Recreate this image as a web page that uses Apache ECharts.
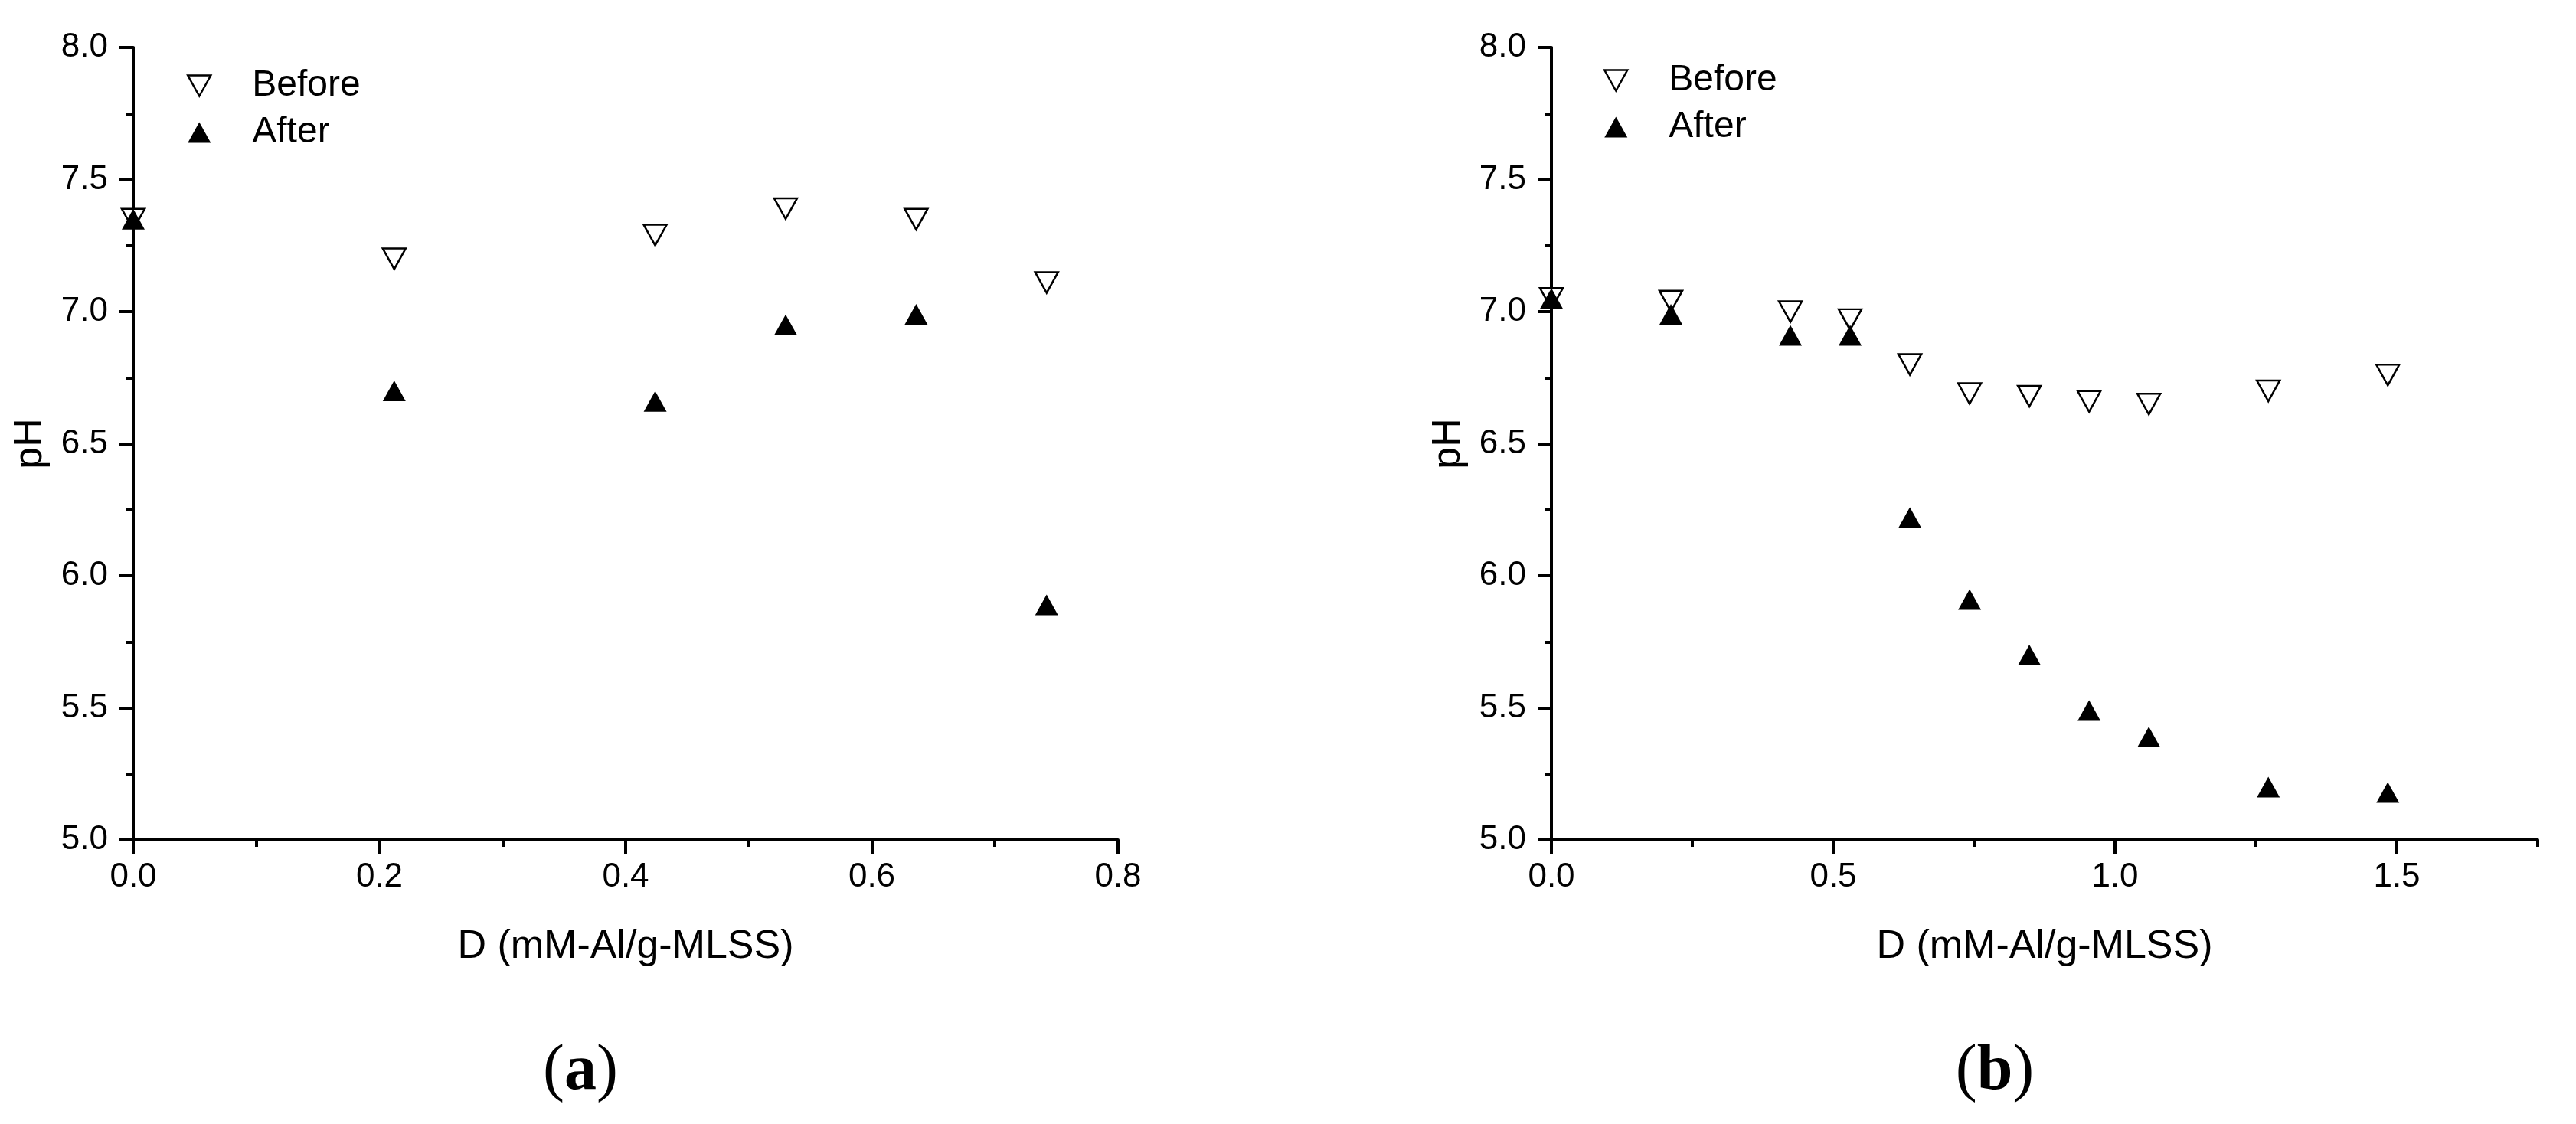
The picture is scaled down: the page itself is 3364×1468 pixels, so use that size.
<!DOCTYPE html>
<html>
<head>
<meta charset="utf-8">
<script src="https://cdn.jsdelivr.net/npm/echarts@6/dist/echarts.min.js"></script>
<style>
html,body{margin:0;padding:0;background:#fff;}
#chart{width:3364px;height:1468px;}
</style>
</head>
<body>
<div id="chart"></div>
<script>
// ---- data ----
const doseA   = [0, 0.212, 0.424, 0.53, 0.636, 0.742];
const beforeA = [7.35, 7.20, 7.29, 7.39, 7.35, 7.11];
const afterA  = [7.35, 6.70, 6.66, 6.95, 6.99, 5.89];

const doseB   = [0, 0.212, 0.424, 0.53, 0.636, 0.742, 0.848, 0.954, 1.06, 1.272, 1.484];
const beforeB = [7.05, 7.04, 7.00, 6.97, 6.80, 6.69, 6.68, 6.66, 6.65, 6.70, 6.76];
const afterB  = [7.05, 6.99, 6.91, 6.91, 6.22, 5.91, 5.70, 5.49, 5.39, 5.20, 5.18];

const seriesNames = ['Before', 'After'];
const xTitle = 'D (mM-Al/g-MLSS)';
const yTitle = 'pH';
const panelLabels = ['a', 'b'];
const xTicksB = [0, 0.5, 1.0, 1.5];

// ---- styling ----
const SANS = 'Liberation Sans, Arial, sans-serif';
const SERIF = 'Liberation Serif, Times New Roman, serif';
const BLACK = '#000';
const LW = 4;

function pairs(xs, ys) { return xs.map((x, i) => [x, ys[i]]); }

const labelCommon = { color: BLACK, fontSize: 44, fontFamily: SANS };
const nameStyle = { color: BLACK, fontSize: 52, fontFamily: SANS };

function yAxis(gridIndex) {
  return {
    type: 'value', gridIndex, min: 5, max: 8, interval: 0.5,
    axisLine: { show: true, lineStyle: { color: BLACK, width: LW } },
    axisTick: { show: true, length: 18, lineStyle: { color: BLACK, width: LW } },
    minorTick: { show: true, splitNumber: 2, length: 9, lineStyle: { color: BLACK, width: LW } },
    splitLine: { show: false }, minorSplitLine: { show: false },
    axisLabel: Object.assign({ margin: 33, formatter: v => v.toFixed(1) }, labelCommon),
    name: yTitle, nameLocation: 'middle', nameRotate: 90, nameGap: 108,
    nameTextStyle: nameStyle
  };
}

const legendIconDown = 'path://M0,0L30,0L15,27Z';
const legendIconUp = 'path://M15,0L30,27L0,27Z';

function legend(left, top) {
  return {
    orient: 'vertical', left, top, itemWidth: 30, itemHeight: 27, itemGap: 13,
    selectedMode: false,
    textStyle: { color: BLACK, fontSize: 48, fontFamily: SANS, lineHeight: 27, padding: [0, 0, 0, 49] },
    data: [
      { name: seriesNames[0], icon: legendIconDown, itemStyle: { color: '#fff', borderColor: BLACK, borderWidth: 2.5, opacity: 1 } },
      { name: seriesNames[1], icon: legendIconUp, itemStyle: { color: BLACK, borderWidth: 0, opacity: 1 } }
    ]
  };
}

function scatter(name, xi, yi, data, before) {
  return {
    type: 'scatter', name, xAxisIndex: xi, yAxisIndex: yi, data,
    symbol: 'triangle', symbolRotate: before ? 180 : 0, symbolSize: [30, 27],
    itemStyle: before
      ? { color: '#fff', borderColor: BLACK, borderWidth: 2.5, opacity: 1 }
      : { color: BLACK, opacity: 1 },
    z: before ? 2 : 3, clip: false, emphasis: { disabled: true }
  };
}

const option = {
  backgroundColor: '#fff',
  animation: false,
  grid: [
    { left: 174, top: 62, width: 1286, height: 1035, containLabel: false },
    { left: 2026, top: 62, width: 1288, height: 1035, containLabel: false }
  ],
  xAxis: [
    {
      type: 'value', gridIndex: 0, min: 0, max: 0.8, interval: 0.2, position: 'bottom',
      axisLine: { show: true, lineStyle: { color: BLACK, width: LW } },
      axisTick: { show: true, length: 18, lineStyle: { color: BLACK, width: LW } },
      minorTick: { show: true, splitNumber: 2, length: 9, lineStyle: { color: BLACK, width: LW } },
      splitLine: { show: false },
      axisLabel: Object.assign({ margin: 27, formatter: v => v.toFixed(1) }, labelCommon),
      name: xTitle, nameLocation: 'middle', nameGap: 114, nameTextStyle: nameStyle
    },
    {
      type: 'value', gridIndex: 1, min: 0, max: 1.75, interval: 0.25, position: 'bottom',
      axisLine: { show: true, lineStyle: { color: BLACK, width: LW } },
      axisTick: { show: true, length: 9, lineStyle: { color: BLACK, width: LW } },
      splitLine: { show: false },
      axisLabel: Object.assign({
        margin: 27,
        formatter: v => (xTicksB.some(t => Math.abs(t - v) < 1e-6) ? v.toFixed(1) : '')
      }, labelCommon),
      name: xTitle, nameLocation: 'middle', nameGap: 114, nameTextStyle: nameStyle
    },
    {
      type: 'value', gridIndex: 1, min: 0, max: 1.75, interval: 0.5, position: 'bottom',
      axisLine: { show: false },
      axisTick: { show: true, length: 18, customValues: xTicksB, lineStyle: { color: BLACK, width: LW } },
      axisLabel: { show: false },
      splitLine: { show: false }
    }
  ],
  yAxis: [yAxis(0), yAxis(1)],
  legend: [legend(239, 83), legend(2089, 76)],
  series: [
    scatter(seriesNames[0], 0, 0, pairs(doseA, beforeA), true),
    scatter(seriesNames[1], 0, 0, pairs(doseA, afterA), false),
    scatter(seriesNames[0], 1, 1, pairs(doseB, beforeB), true),
    scatter(seriesNames[1], 1, 1, pairs(doseB, afterB), false)
  ],
  graphic: [
    {
      type: 'text', x: 758, y: 1400,
      style: {
        text: '({b|' + panelLabels[0] + '})', fill: BLACK, fontSize: 84, fontFamily: SERIF,
        align: 'center', verticalAlign: 'middle',
        rich: { b: { fontSize: 84, fontFamily: SERIF, fontWeight: 'bold', fill: BLACK } }
      }
    },
    {
      type: 'text', x: 2605, y: 1400,
      style: {
        text: '({b|' + panelLabels[1] + '})', fill: BLACK, fontSize: 84, fontFamily: SERIF,
        align: 'center', verticalAlign: 'middle',
        rich: { b: { fontSize: 84, fontFamily: SERIF, fontWeight: 'bold', fill: BLACK } }
      }
    }
  ]
};

const chart = echarts.init(document.getElementById('chart'), null, { renderer: 'canvas' });
chart.setOption(option);
</script>
</body>
</html>
